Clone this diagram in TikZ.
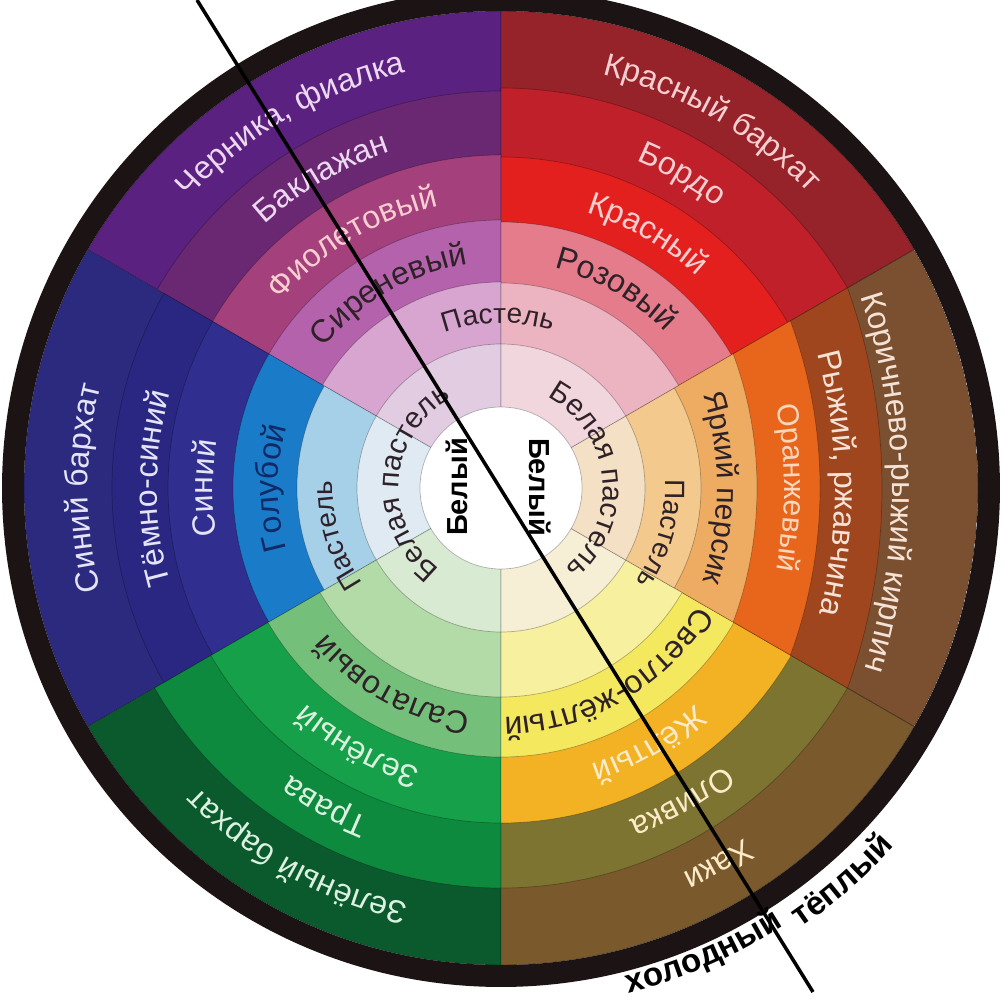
\documentclass[tikz,border=0pt]{standalone}
\usepackage{fontspec}
\setmainfont{Liberation Sans}
\usetikzlibrary{decorations.text}
% ring colours
\definecolor{p6}{HTML}{5A2180}\definecolor{p5}{HTML}{6A2872}\definecolor{p4}{HTML}{A4407C}
\definecolor{p3}{HTML}{B462AC}\definecolor{p2}{HTML}{D8A4D0}\definecolor{p1}{HTML}{E2CCE2}
\definecolor{r6}{HTML}{96222A}\definecolor{r5}{HTML}{C02029}\definecolor{r4}{HTML}{E3201E}
\definecolor{r3}{HTML}{E47C8C}\definecolor{r2}{HTML}{ECB4C0}\definecolor{r1}{HTML}{F2D6DE}
\definecolor{o6}{HTML}{7A5030}\definecolor{o5}{HTML}{A0461E}\definecolor{o4}{HTML}{E8661C}
\definecolor{o3}{HTML}{EDAC62}\definecolor{o2}{HTML}{F4C98E}\definecolor{o1}{HTML}{F4E0C4}
\definecolor{y6}{HTML}{7A5A2C}\definecolor{y5}{HTML}{7C7430}\definecolor{y4}{HTML}{F2B224}
\definecolor{y3}{HTML}{F3E85E}\definecolor{y2}{HTML}{F7F09E}\definecolor{y1}{HTML}{F7EED6}
\definecolor{g6}{HTML}{0B5A2E}\definecolor{g5}{HTML}{0E8A3E}\definecolor{g4}{HTML}{16A04A}
\definecolor{g3}{HTML}{74C07A}\definecolor{g2}{HTML}{B2DBA8}\definecolor{g1}{HTML}{D8EBD2}
\definecolor{b6}{HTML}{2C2A7E}\definecolor{b5}{HTML}{2A2782}\definecolor{b4}{HTML}{302E8E}
\definecolor{b3}{HTML}{1A7CC8}\definecolor{b2}{HTML}{A6D0E8}\definecolor{b1}{HTML}{DFEAF2}
\definecolor{ringblack}{HTML}{1C1414}
% text colours
\definecolor{tdark}{HTML}{2E2228}
\definecolor{tpurp}{HTML}{ECD8F0}\definecolor{tpink}{HTML}{F8CED0}
\definecolor{tbrown}{HTML}{F4E2D6}\definecolor{torange}{HTML}{FBD6BC}
\definecolor{tyel}{HTML}{FCEBC8}\definecolor{tgreen}{HTML}{DCF2E0}
\definecolor{tblue}{HTML}{E4E4F6}\definecolor{tcyan}{HTML}{0F2A66}

\newcommand\wdg[4]{\filldraw[fill=#4, cellline] (0,0) -- ({#1}:{#3}) arc[start angle={#1}, end angle={#2}, radius={#3}] -- cycle;}
% angle, baseline radius, colour, size (pt), text  -- clockwise, tops outward
\newcommand\arclbl[5]{\path[decorate, decoration={text along path, text align=center,
  text={|\color{#3}\fontsize{#4}{#4}\selectfont|#5}}]
  ({#1+85}:{#2}) arc[start angle={#1+85}, end angle={#1-85}, radius={#2}];}
% same, on an arc whose centre is shifted to (#6,0)
\newcommand\arclblc[6]{\path[shift={(#6,0)}, decorate, decoration={text along path, text align=center,
  text={|\color{#3}\fontsize{#4}{#4}\selectfont|#5}}]
  ({#1+60}:{#2}) arc[start angle={#1+60}, end angle={#1-60}, radius={#2}];}
% counter-clockwise, tops inward, bold
\newcommand\arclblccw[5]{\path[decorate, decoration={text along path, text align=center,
  text={|\color{#3}\bfseries\fontsize{#4}{#4}\selectfont|#5}}]
  ({#1-40}:{#2}) arc[start angle={#1-40}, end angle={#1+40}, radius={#2}];}

\begin{document}
\begin{tikzpicture}[x=0.025cm, y=0.025cm,
  cellline/.style={draw=black, draw opacity=0.28, line width=0.5pt}]
\useasboundingbox (-501,-512) rectangle (503,488);
\clip (-501,-512) rectangle (503,488);
\fill[white] (-501,-512) rectangle (503,488);

% level 6
\wdg{90}{150}{477}{p6}\wdg{150}{210}{477}{b6}\wdg{210}{270}{477}{g6}
\wdg{270}{330}{477}{y6}\wdg{30}{90}{477}{r6}
% level 5
\wdg{90}{150}{397}{p5}\wdg{150}{210}{389}{b5}\wdg{210}{270}{400}{g5}
\wdg{270}{330}{400}{y5}\wdg{30}{90}{400}{r5}
% level 4
\wdg{90}{150}{333}{p4}\wdg{150}{210}{333}{b4}\wdg{210}{270}{335}{g4}
\wdg{270}{330}{335}{y4}\wdg{30}{90}{331}{r4}
% level 3
\wdg{90}{150}{268}{p3}\wdg{150}{210}{268}{b3}\wdg{210}{270}{269}{g3}
\wdg{270}{330}{269}{y3}\wdg{30}{90}{266}{r3}
% orange sector: flatter ring arcs
\begin{scope}
  \clip (0,0) -- (-30:477) arc[start angle=-30, end angle=30, radius=477] -- cycle;
  \filldraw[fill=o6, cellline] (0,0) -- (-30:477) arc[start angle=-30, end angle=30, radius=477] -- cycle;
  \filldraw[fill=o5, cellline] (-214,0) circle[radius=595];
  \filldraw[fill=o4, cellline] (-165,0) circle[radius=484];
  \filldraw[fill=o3, cellline] (-131,0) circle[radius=387];
\end{scope}
\draw[cellline] (0,0) -- (-30:477) (0,0) -- (30:477);
% level 2
\wdg{90}{150}{206}{p2}\wdg{150}{210}{204}{b2}\wdg{210}{270}{209}{g2}
\wdg{270}{330}{209}{y2}\wdg{-30}{30}{200}{o2}\wdg{30}{90}{205}{r2}
% level 1
\wdg{90}{150}{144}{p1}\wdg{150}{210}{144}{b1}\wdg{210}{270}{144}{g1}
\wdg{270}{330}{144}{y1}\wdg{-30}{30}{144}{o1}\wdg{30}{90}{144}{r1}
% centre
\filldraw[fill=white, cellline] (0,0) circle[radius=81];
% outer black ring
\draw[ringblack, line width=15.6pt] (0,0) circle[radius=488];

% purple sector
\arclbl{91}{165}{tdark}{19.9}{Пастель}
\arclbl{120}{226}{tdark}{22.8}{Сиреневый}
\arclbl{121}{289}{tpink}{22.8}{Фиолетовый}
\arclbl{120}{354}{tpurp}{22.8}{Баклажан}
\arclbl{120}{426}{tpurp}{22.8}{Черника, фиалка}
% red sector
\arclbl{60}{226}{tdark}{22.8}{Розовый}
\arclbl{60}{288}{tpink}{22.8}{Красный}
\arclbl{60}{354}{tpink}{22.8}{Бордо}
\arclbl{60}{426}{tpink}{22.8}{Красный бархат}
% orange sector
\arclbl{-16}{164}{tdark}{19.9}{Пастель}
\arclblc{0}{316}{tdark}{21.5}{Яркий персик}{-100}
\arclblc{0}{433}{torange}{21.5}{Оранжевый}{-150}
\arclblc{0.5}{524}{tbrown}{22.8}{Рыжий, ржавчина}{-190}
\arclblc{0.5}{605}{tbrown}{22.8}{Коричнево-рыжий кирпич}{-214}
% white pastel
\arclbl{6}{102}{tdark}{21}{Белая пастель}
\arclbl{176}{102}{tdark}{21}{Белая пастель}
% blue sector
\arclbl{196}{168}{tdark}{19.9}{Пастель}
\arclbl{180}{223}{tcyan}{22.8}{Голубой}
\arclbl{180}{288}{tblue}{22.8}{Синий}
\arclbl{180}{344}{tblue}{22.8}{Тёмно-синий}
\arclbl{180}{413}{tblue}{22.8}{Синий бархат}
% green sector
\arclbl{241}{227}{tdark}{22.8}{Салатовый}
\arclbl{241}{291}{tgreen}{22.8}{Зелёный}
\arclbl{241}{356}{tgreen}{22.8}{Трава}
\arclbl{241}{426}{tgreen}{22.8}{Зелёный бархат}
% yellow sector
\arclbl{300}{229}{tdark}{22.8}{Светло-жёлтый}
\arclbl{300}{291}{tyel}{22.8}{Жёлтый}
\arclbl{300}{356}{tyel}{22.8}{Оливка}
\arclbl{300}{426}{tyel}{22.8}{Хаки}
% white centre
\node[font=\bfseries\fontsize{20.6}{22}\selectfont, rotate=90, inner sep=0pt] (wl) at (-44,1) {Белый};
\node[font=\bfseries\fontsize{20.6}{22}\selectfont, rotate=-90, inner sep=0pt] (wr) at (39,1) {Белый};

% cold / warm divider
\coordinate (ltop) at (-304,488);
\coordinate (lbot) at (312,-504);
\draw[black, line width=2.5pt] (ltop) -- (lbot);
\arclblccw{-66.5}{521}{black}{23.5}{холодный}
\arclblccw{-49}{532}{black}{23.5}{тёплый}
\end{tikzpicture}
\end{document}
